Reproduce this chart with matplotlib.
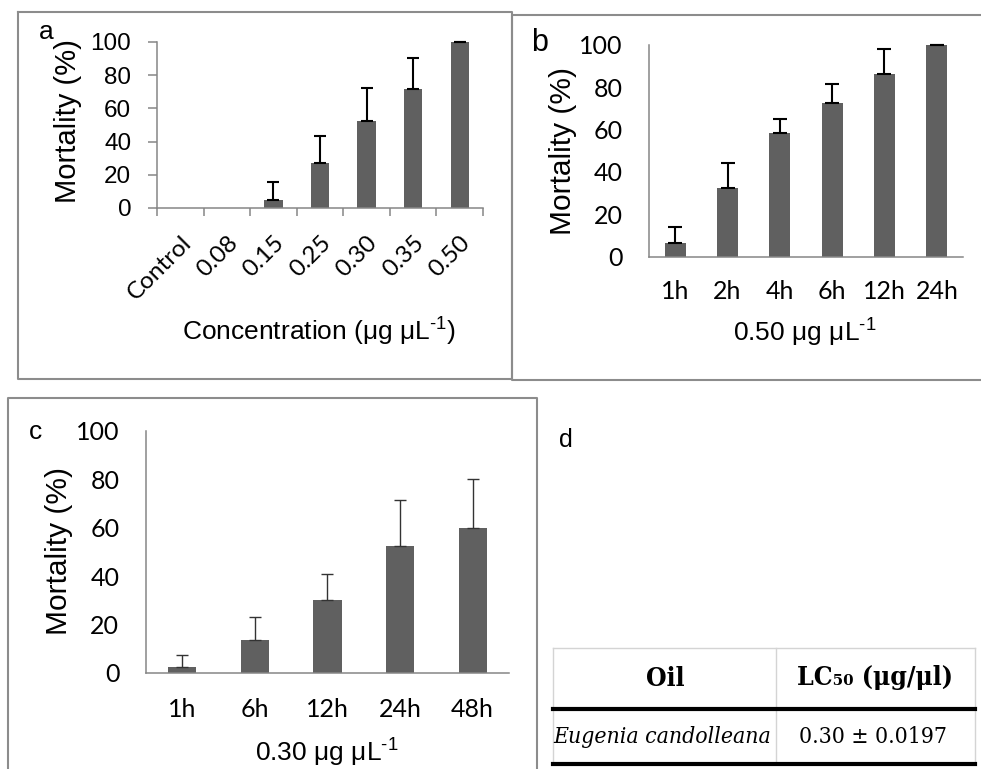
import numpy as np
import matplotlib
matplotlib.use('Agg')
import matplotlib.pyplot as plt
from matplotlib.ticker import FixedLocator

plt.rcParams['font.family'] = ['Liberation Sans', 'DejaVu Sans']
plt.rcParams['mathtext.fontset'] = 'custom'
plt.rcParams['mathtext.rm'] = 'Liberation Sans'
plt.rcParams['mathtext.default'] = 'regular'

# (a) mortality vs concentration
conc_labels = ['Control', '0.08', '0.15', '0.25', '0.30', '0.35', '0.50']
conc_mort = [0, 0, 4.8, 27.3, 52.5, 71.4, 100]
conc_err = [0, 0, 10.9, 15.9, 19.9, 18.7, 0]

# (b) 0.50 ug/uL over time
time_b = ['1h', '2h', '4h', '6h', '12h', '24h']
mort_b = [6.3, 32.5, 58.6, 72.4, 86.3, 100]
err_b = [7.6, 11.8, 6.4, 9.0, 11.8, 0]

# (c) 0.30 ug/uL over time
time_c = ['1h', '6h', '12h', '24h', '48h']
mort_c = [2.5, 13.7, 30.3, 52.4, 59.8]
err_c = [4.9, 9.6, 10.6, 19.2, 20.4]

# (d) LC50 table
table_header = ['Oil', 'LC₅₀ (μg/μl)']
table_row = ['Eugenia candolleana', '0.30 ± 0.0197']

W, H = 981, 769
BAR = '#606060'
SPINE = '#868686'
FRAME = '#8c8c8c'
UNIT = 'μg μL$^{\u20101}$'

fig = plt.figure(figsize=(W / 100, H / 100), dpi=100)


def box(x0, y0, x1, y1):
    return [x0 / W, 1 - y1 / H, (x1 - x0) / W, (y1 - y0) / H]


def fpos(x, y):
    return x / W, 1 - y / H


def bar_panel(rect, labels, vals, err, width, capsize, elw, ecolor):
    ax = fig.add_axes(box(*rect))
    x = np.arange(len(labels))
    vals = np.array(vals, dtype=float)
    err = np.array(err, dtype=float)
    ax.bar(x, vals, width=width, color=BAR, zorder=2)
    show = vals > 0
    eb = ax.errorbar(x[show], vals[show],
                     yerr=[np.zeros(show.sum()), err[show]],
                     fmt='none', ecolor=ecolor, elinewidth=elw,
                     capsize=capsize, capthick=elw, zorder=3)
    for art in eb.lines[1] + eb.lines[2]:
        art.set_clip_on(False)
    ax.set_xlim(-0.5, len(labels) - 0.5)
    ax.set_ylim(0, 100)
    ax.set_yticks(range(0, 101, 20))
    ax.set_xticks(x)
    ax.set_xticklabels(labels)
    for s in ['top', 'right']:
        ax.spines[s].set_visible(False)
    for s in ['left', 'bottom']:
        ax.spines[s].set_color(SPINE)
        ax.spines[s].set_linewidth(1.1)
    ax.patch.set_alpha(0)
    return ax


# overlay for frames, panel letters and the table
ov = fig.add_axes([0, 0, 1, 1])
ov.set_xlim(0, W)
ov.set_ylim(H, 0)
ov.axis('off')
ov.plot([18, 512, 512, 18, 18], [12, 12, 379, 379, 12], color=FRAME, lw=1.5)
ov.plot([981, 512, 512, 981], [15, 15, 380, 380], color=FRAME, lw=1.5)
ov.plot([8, 8, 537, 537], [780, 398, 398, 780], color=FRAME, lw=1.5)

# ---- panel a
ax_a = bar_panel((157, 42, 483, 208), conc_labels, conc_mort, conc_err,
                 0.39, 4.6, 1.5, 'black')
ax_a.xaxis.set_minor_locator(FixedLocator(np.arange(-0.5, 7, 1)))
ax_a.tick_params(axis='x', which='major', length=0, pad=17)
ax_a.tick_params(axis='x', which='minor', length=6, width=1.1, color=SPINE)
ax_a.tick_params(axis='y', length=6.5, width=1.1, color=SPINE, pad=12, labelsize=17.5)
for lab in ax_a.get_xticklabels():
    lab.set_rotation(45)
    lab.set_ha('right')
    lab.set_va('top')
    lab.set_rotation_mode('anchor')
    lab.set_fontfamily('Lato')
    lab.set_fontsize(17.5)
ax_a.set_ylabel('Mortality (%)', fontsize=21, va='center')
ax_a.yaxis.set_label_coords(*fpos(68, 121), transform=fig.transFigure)
ax_a.set_xlabel('Concentration (' + UNIT + ')', fontsize=19, va='center')
ax_a.xaxis.set_label_coords(*fpos(319, 332), transform=fig.transFigure)

# ---- panel b
ax_b = bar_panel((649, 45, 963, 256.5), time_b, mort_b, err_b,
                 0.4, 5.2, 1.5, 'black')
ax_b.tick_params(length=0, labelsize=18)
ax_b.tick_params(axis='x', pad=17)
ax_b.tick_params(axis='y', pad=19)
for lab in ax_b.get_xticklabels() + ax_b.get_yticklabels():
    lab.set_fontfamily('Lato')
ax_b.set_ylabel('Mortality (%)', fontsize=21.5, va='center')
ax_b.yaxis.set_label_coords(*fpos(563, 151), transform=fig.transFigure)
ax_b.set_xlabel('0.50 ' + UNIT, fontsize=19, va='center')
ax_b.xaxis.set_label_coords(*fpos(805, 333), transform=fig.transFigure)

# ---- panel c
ax_c = bar_panel((145.7, 431, 509, 673), time_c, mort_c, err_c,
                 0.39, 4.5, 1.0, '#333333')
ax_c.tick_params(length=0, labelsize=18)
ax_c.tick_params(axis='x', pad=18)
ax_c.tick_params(axis='y', pad=19)
for lab in ax_c.get_xticklabels() + ax_c.get_yticklabels():
    lab.set_fontfamily('Lato')
ax_c.set_ylabel('Mortality (%)', fontsize=21.5, va='center')
ax_c.yaxis.set_label_coords(*fpos(59, 551), transform=fig.transFigure)
ax_c.set_xlabel('0.30 ' + UNIT, fontsize=19, va='center')
ax_c.xaxis.set_label_coords(*fpos(327, 753), transform=fig.transFigure)

# panel letters
ov.text(46, 32, 'a', fontsize=19, ha='center', va='center')
ov.text(540, 43, 'b', fontsize=22, ha='center', va='center')
ov.text(36, 432, 'c', fontsize=19, ha='center', va='center')
ov.text(566, 440, 'd', fontsize=18, ha='center', va='center')

# ---- panel d: table
light = '#d4d4d4'
ov.plot([553, 975], [648, 648], color=light, lw=1)
ov.plot([553, 553], [648, 764], color=light, lw=1)
ov.plot([975, 975], [648, 764], color=light, lw=1)
ov.plot([776, 776], [648, 764], color=light, lw=1)
ov.plot([553, 975], [709, 709], color='black', lw=3)
ov.plot([553, 975], [764, 764], color='black', lw=3)
serif = ['DejaVu Serif']
ov.text(665, 678, table_header[0], fontsize=19, fontweight='bold',
        fontfamily=serif, fontstretch='condensed', ha='center', va='center')
ov.text(875, 678, table_header[1], fontsize=19, fontweight='bold',
        fontfamily=serif, fontstretch='condensed', ha='center', va='center')
ov.text(662, 737, table_row[0], fontsize=16.5, style='italic',
        fontfamily=serif, fontstretch='condensed', ha='center', va='center')
ov.text(873, 737, table_row[1], fontsize=16.5,
        fontfamily=serif, fontstretch='condensed', ha='center', va='center')

fig.savefig('out.png', dpi=100)
